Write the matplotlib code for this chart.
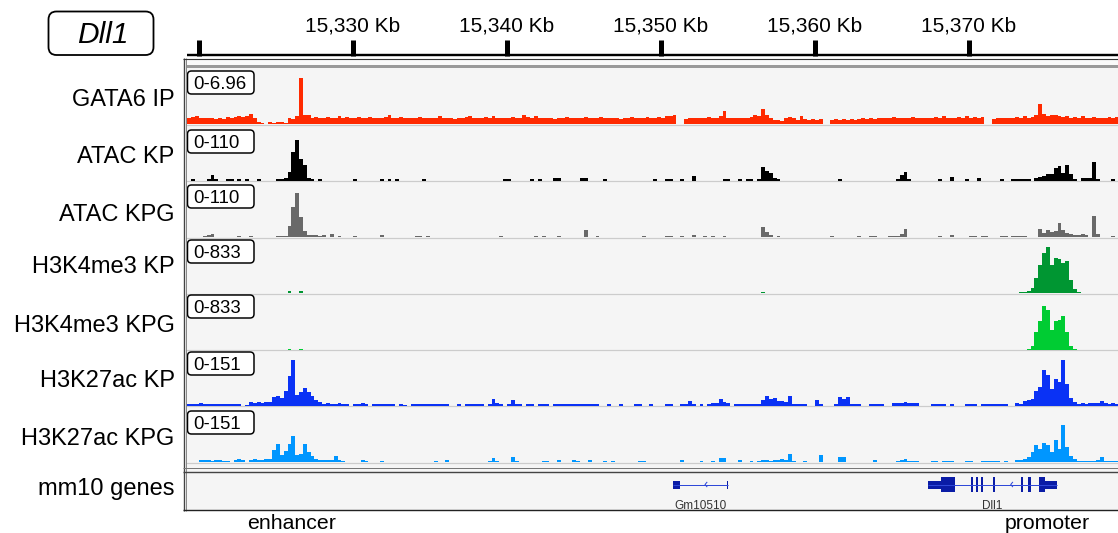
import numpy as np
import matplotlib
matplotlib.use("Agg")
import matplotlib.pyplot as plt
from matplotlib.patches import FancyBboxPatch, Rectangle

plt.rcParams['font.family'] = ['Liberation Sans', 'DejaVu Sans']

# ---------------------------------------------------------------- data
# genomic window (kb) and ruler
VIEW_START, VIEW_END = 15319.156, 15379.675
RULER_TICKS = [15320, 15330, 15340, 15350, 15360, 15370, 15380]
RULER_LABELS = ["", "15,330 Kb", "15,340 Kb", "15,350 Kb", "15,360 Kb", "15,370 Kb", ""]

# coverage bins
BIN_START = 15319.25
BIN_KB = 0.25

TRACK_NAMES = ["GATA6 IP", "ATAC KP", "ATAC KPG", "H3K4me3 KP", "H3K4me3 KPG",
               "H3K27ac KP", "H3K27ac KPG"]
TRACK_RANGES = [6.96, 110, 110, 833, 833, 151, 151]
TRACK_RANGE_LABELS = ["0-6.96", "0-110", "0-110", "0-833", "0-833", "0-151", "0-151"]
TRACK_COLORS = ["#ff2a00", "#000000", "#696969", "#009632", "#00cc33", "#0a32f5", "#0096ff"]

GATA6_IP = [
    0.8, 0.9, 1.0, 0.7, 0.8, 0.7, 0.8, 0.6, 0.8, 0.6,
    0.9, 0.8, 0.9, 1.0, 0.9, 1.0, 1.3, 0.8, 0.3, 0.1,
    0.0, 0.2, 0.1, 0.3, 0.2, 0.1, 0.8, 0.6, 1.0, 5.8,
    1.1, 1.1, 0.8, 0.9, 0.7, 0.7, 0.9, 0.8, 0.7, 1.0,
    0.8, 0.9, 0.7, 0.8, 0.9, 0.8, 0.7, 0.9, 0.8, 0.7,
    0.8, 0.9, 1.2, 0.8, 0.7, 0.9, 0.8, 0.7, 0.8, 0.7,
    0.9, 0.8, 0.7, 0.8, 0.7, 1.0, 0.8, 0.7, 0.8, 0.6,
    0.8, 0.7, 0.9, 1.0, 0.8, 0.7, 0.8, 0.9, 0.7, 1.0,
    0.8, 0.7, 0.8, 0.7, 0.9, 0.8, 0.7, 1.2, 0.9, 0.8,
    1.0, 0.7, 0.8, 0.7, 0.8, 0.6, 0.7, 0.8, 0.9, 0.8,
    0.7, 0.8, 0.7, 0.9, 0.8, 0.7, 0.8, 0.9, 0.7, 0.8,
    0.8, 0.7, 0.6, 0.8, 0.7, 0.9, 0.8, 0.7, 0.8, 0.9,
    0.8, 0.7, 0.9, 0.8, 1.0, 1.0, 1.1, 0.0, 0.0, 0.6,
    0.8, 0.7, 0.8, 0.7, 0.8, 0.9, 0.8, 0.7, 1.0, 1.7,
    0.8, 0.7, 0.8, 0.7, 0.8, 0.7, 0.9, 1.2, 1.0, 1.9,
    1.2, 0.8, 0.5, 0.5, 0.4, 0.7, 0.9, 0.8, 0.5, 1.0,
    0.6, 0.5, 0.6, 0.5, 0.6, 0.0, 0.0, 0.5, 0.6, 0.5,
    0.6, 0.5, 0.6, 0.5, 0.6, 0.8, 0.6, 0.7, 0.6, 0.7,
    0.7, 0.8, 0.7, 0.9, 0.8, 0.7, 0.8, 0.7, 0.9, 0.8,
    0.7, 0.8, 0.7, 0.8, 0.9, 0.8, 1.0, 0.8, 0.7, 0.8,
    0.9, 0.8, 1.0, 0.8, 0.9, 0.8, 0.9, 0.0, 0.0, 0.6,
    0.8, 0.7, 0.8, 0.7, 0.8, 0.9, 0.8, 1.0, 0.8, 0.9,
    1.1, 2.5, 1.3, 1.0, 1.2, 1.1, 1.0, 0.9, 1.0, 0.8,
    0.9, 0.8, 1.0, 0.8, 0.7, 0.9, 0.8, 0.7, 0.8, 0.9,
    0.8, 0.9,
]

ATAC_KP = [
    0, 2, 0, 0, 0, 3, 10, 2, 0, 0,
    2, 2, 0, 2, 0, 2, 0, 0, 2, 0,
    0, 0, 0, 2, 3, 4, 16, 56, 80, 42,
    30, 5, 2, 0, 2, 0, 0, 0, 0, 0,
    0, 0, 0, 2, 0, 0, 0, 0, 0, 0,
    2, 0, 2, 0, 2, 0, 0, 0, 0, 0,
    0, 2, 0, 0, 0, 0, 0, 0, 0, 0,
    0, 0, 0, 0, 0, 0, 0, 0, 0, 0,
    0, 0, 2, 2, 0, 0, 0, 0, 0, 2,
    0, 2, 0, 0, 0, 4, 4, 0, 0, 0,
    0, 0, 4, 4, 0, 0, 0, 0, 2, 0,
    0, 0, 0, 0, 0, 0, 0, 0, 0, 0,
    0, 2, 0, 0, 2, 2, 0, 0, 2, 0,
    0, 9, 0, 0, 0, 0, 0, 0, 0, 2,
    2, 0, 0, 2, 0, 2, 2, 0, 2, 26,
    18, 14, 5, 2, 0, 0, 0, 0, 0, 0,
    0, 0, 0, 0, 0, 0, 0, 0, 0, 2,
    0, 0, 0, 0, 0, 0, 0, 0, 0, 0,
    0, 0, 0, 0, 2, 11, 16, 3, 0, 0,
    0, 0, 0, 0, 0, 2, 0, 0, 6, 0,
    0, 0, 2, 0, 0, 5, 0, 0, 0, 0,
    0, 2, 0, 0, 2, 3, 2, 2, 2, 0,
    4, 6, 8, 12, 12, 24, 28, 14, 30, 12,
    3, 0, 5, 4, 5, 36, 3, 0, 0, 0,
    2, 0,
]

ATAC_KPG = [
    0, 0, 0, 0, 2, 3, 6, 0, 0, 0,
    0, 0, 0, 2, 0, 0, 2, 0, 0, 0,
    0, 0, 0, 2, 2, 2, 22, 60, 88, 40,
    12, 3, 3, 3, 2, 3, 0, 6, 0, 2,
    0, 0, 0, 2, 0, 0, 0, 0, 0, 0,
    3, 0, 0, 0, 0, 0, 0, 0, 0, 2,
    2, 0, 2, 0, 0, 0, 0, 0, 0, 0,
    0, 0, 0, 0, 0, 0, 0, 0, 0, 0,
    0, 2, 0, 0, 0, 0, 0, 0, 0, 0,
    2, 0, 2, 0, 0, 0, 2, 0, 0, 0,
    0, 0, 0, 14, 0, 0, 2, 0, 0, 0,
    0, 0, 0, 0, 0, 0, 0, 0, 2, 0,
    0, 0, 0, 0, 2, 2, 0, 0, 2, 0,
    0, 4, 0, 0, 2, 0, 2, 0, 0, 2,
    0, 0, 0, 0, 0, 0, 0, 0, 0, 20,
    10, 3, 0, 2, 0, 0, 0, 0, 0, 0,
    0, 0, 0, 0, 0, 0, 0, 2, 0, 0,
    0, 0, 0, 0, 2, 0, 0, 2, 2, 0,
    0, 0, 2, 2, 2, 6, 16, 0, 0, 0,
    0, 0, 0, 0, 0, 2, 0, 0, 4, 0,
    0, 0, 0, 2, 2, 0, 2, 2, 0, 0,
    0, 2, 2, 0, 2, 2, 2, 2, 0, 0,
    0, 16, 7, 13, 10, 12, 28, 13, 8, 5,
    4, 3, 5, 3, 0, 42, 5, 0, 0, 0,
    2, 0,
]

H3K4ME3_KP = [
    0, 0, 0, 0, 0, 0, 0, 0, 0, 0,
    0, 0, 0, 0, 0, 0, 0, 0, 0, 0,
    0, 0, 0, 0, 0, 0, 25, 0, 0, 25,
    0, 0, 0, 0, 0, 0, 0, 0, 0, 0,
    0, 0, 0, 0, 0, 0, 0, 0, 0, 0,
    0, 0, 0, 0, 0, 0, 0, 0, 0, 0,
    0, 0, 0, 0, 0, 0, 0, 0, 0, 0,
    0, 0, 0, 0, 0, 0, 0, 0, 0, 0,
    0, 0, 0, 0, 0, 0, 0, 0, 0, 0,
    0, 0, 0, 0, 0, 0, 0, 0, 0, 0,
    0, 0, 0, 0, 0, 0, 0, 0, 0, 0,
    0, 0, 0, 0, 0, 0, 0, 0, 0, 0,
    0, 0, 0, 0, 0, 0, 0, 0, 0, 0,
    0, 0, 0, 0, 0, 0, 0, 0, 0, 0,
    0, 0, 0, 0, 0, 0, 0, 0, 0, 15,
    0, 0, 0, 0, 0, 0, 0, 0, 0, 0,
    0, 0, 0, 0, 0, 0, 0, 0, 0, 0,
    0, 0, 0, 0, 0, 0, 0, 0, 0, 0,
    0, 0, 0, 0, 0, 0, 0, 0, 0, 0,
    0, 0, 0, 0, 0, 0, 0, 0, 0, 0,
    0, 0, 0, 0, 0, 0, 0, 0, 0, 0,
    0, 0, 0, 0, 0, 0, 15, 20, 30, 80,
    230, 420, 600, 690, 420, 530, 520, 450, 480, 200,
    60, 15, 0, 0, 0, 0, 0, 0, 0, 0,
    0, 0,
]

H3K4ME3_KPG = [
    0, 0, 0, 0, 0, 0, 0, 0, 0, 0,
    0, 0, 0, 0, 0, 0, 0, 0, 0, 0,
    0, 0, 0, 0, 0, 0, 15, 0, 0, 15,
    0, 0, 0, 0, 0, 0, 0, 0, 0, 0,
    0, 0, 0, 0, 0, 0, 0, 0, 0, 0,
    0, 0, 0, 0, 0, 0, 0, 0, 0, 0,
    0, 0, 0, 0, 0, 0, 0, 0, 0, 0,
    0, 0, 0, 0, 0, 0, 0, 0, 0, 0,
    0, 0, 0, 0, 0, 0, 0, 0, 0, 0,
    0, 0, 0, 0, 0, 0, 0, 0, 0, 0,
    0, 0, 0, 0, 0, 0, 0, 0, 0, 0,
    0, 0, 0, 0, 0, 0, 0, 0, 0, 0,
    0, 0, 0, 0, 0, 0, 0, 0, 0, 0,
    0, 0, 0, 0, 0, 0, 0, 0, 0, 0,
    0, 0, 0, 0, 0, 0, 0, 0, 0, 0,
    0, 0, 0, 0, 0, 0, 0, 0, 0, 0,
    0, 0, 0, 0, 0, 0, 0, 0, 0, 0,
    0, 0, 0, 0, 0, 0, 0, 0, 0, 0,
    0, 0, 0, 0, 0, 0, 0, 0, 0, 0,
    0, 0, 0, 0, 0, 0, 0, 0, 0, 0,
    0, 0, 0, 0, 0, 0, 0, 0, 0, 0,
    0, 0, 0, 0, 0, 0, 0, 0, 10, 60,
    270, 430, 660, 600, 300, 430, 440, 500, 260, 60,
    10, 0, 0, 0, 0, 0, 0, 0, 0, 0,
    0, 0,
]

H3K27AC_KP = [
    3, 4, 3, 8, 5, 3, 4, 3, 3, 4,
    5, 4, 4, 3, 0, 2, 9, 8, 9, 8,
    9, 10, 22, 27, 20, 40, 80, 124, 30, 38,
    47, 38, 27, 16, 9, 5, 6, 5, 5, 8,
    5, 3, 0, 3, 3, 8, 3, 0, 3, 3,
    3, 3, 5, 3, 0, 3, 2, 0, 5, 4,
    5, 4, 5, 3, 5, 4, 5, 3, 0, 0,
    3, 0, 3, 3, 5, 5, 3, 0, 3, 19,
    6, 3, 0, 3, 14, 4, 3, 0, 5, 3,
    0, 3, 5, 3, 0, 3, 5, 5, 5, 4,
    5, 5, 4, 5, 5, 4, 5, 0, 0, 3,
    0, 0, 3, 0, 0, 0, 3, 3, 0, 0,
    3, 0, 0, 0, 3, 3, 0, 0, 4, 5,
    11, 4, 0, 3, 0, 5, 8, 8, 17, 9,
    6, 0, 3, 3, 3, 3, 3, 4, 5, 14,
    25, 17, 20, 12, 11, 10, 25, 3, 3, 4,
    3, 0, 0, 14, 3, 0, 0, 0, 3, 22,
    18, 22, 3, 4, 3, 0, 0, 3, 4, 3,
    3, 0, 0, 8, 8, 8, 9, 8, 8, 6,
    0, 0, 0, 3, 3, 4, 3, 0, 3, 0,
    0, 0, 3, 4, 3, 0, 3, 4, 3, 3,
    4, 3, 4, 0, 0, 6, 5, 11, 14, 19,
    40, 50, 98, 85, 45, 72, 65, 124, 60, 20,
    10, 5, 6, 5, 7, 6, 8, 11, 6, 5,
    6, 5,
]

H3K27AC_KPG = [
    0, 0, 0, 5, 6, 5, 4, 6, 5, 3,
    3, 0, 5, 8, 6, 0, 6, 8, 5, 6,
    8, 8, 33, 48, 20, 30, 48, 72, 18, 22,
    50, 26, 16, 9, 5, 5, 5, 6, 16, 5,
    4, 0, 0, 0, 0, 5, 3, 0, 0, 0,
    3, 0, 0, 0, 0, 0, 0, 0, 0, 0,
    0, 0, 0, 0, 4, 0, 0, 5, 0, 0,
    0, 0, 0, 0, 0, 0, 0, 0, 3, 11,
    4, 0, 0, 0, 14, 3, 0, 0, 0, 0,
    0, 0, 3, 3, 0, 0, 5, 0, 0, 0,
    5, 4, 0, 0, 5, 0, 0, 0, 3, 0,
    3, 0, 0, 0, 0, 0, 0, 3, 3, 0,
    0, 0, 0, 0, 0, 0, 0, 0, 5, 0,
    0, 0, 0, 3, 0, 0, 3, 0, 11, 11,
    0, 0, 0, 5, 0, 0, 3, 0, 3, 5,
    5, 3, 5, 5, 8, 6, 22, 3, 0, 0,
    3, 0, 0, 0, 19, 0, 0, 0, 0, 14,
    14, 0, 0, 0, 0, 0, 0, 0, 5, 0,
    0, 0, 0, 0, 3, 5, 8, 3, 3, 3,
    0, 0, 0, 3, 3, 0, 3, 3, 3, 0,
    0, 0, 3, 3, 0, 0, 3, 3, 3, 3,
    3, 0, 4, 0, 0, 5, 5, 8, 14, 27,
    45, 35, 52, 47, 27, 60, 36, 102, 40, 16,
    8, 4, 3, 3, 3, 4, 5, 14, 3, 3,
    3, 2,
]

TRACK_VALUES = [GATA6_IP, ATAC_KP, ATAC_KPG, H3K4ME3_KP, H3K4ME3_KPG,
                H3K27AC_KP, H3K27AC_KPG]

# mm10 gene models (kb); both genes on the minus strand
GENE_NAMES = ["Gm10510", "Dll1"]
GENE_SPANS = [(15350.78, 15354.36), (15367.34, 15375.73)]
GENE_NONCODING = [
    [(15350.78, 15351.23), (15351.66, 15351.72), (15354.31, 15354.37)],
    [(15367.34, 15368.18), (15374.95, 15375.73)],
]
GENE_CODING = [
    [],
    [(15368.18, 15369.09), (15370.11, 15370.28), (15370.45, 15370.58),
     (15370.76, 15370.89), (15371.58, 15371.69), (15373.38, 15373.53),
     (15373.85, 15374.01), (15374.56, 15374.95)],
]
GENE_ARROWS = [15352.86, 15372.71]

REGION_NOTES = ["enhancer", "promoter"]

# ---------------------------------------------------------------- layout (pixels)
W, H, DPI = 1118, 533, 100
DATA_X0, DATA_X1 = 186, W
TRACK_TOPS = [69, 125, 181.5, 238, 294, 350.5, 406.5]
TRACK_BASES = [124, 180.5, 237, 293, 349.5, 405.5, 462]
LABEL_BASELINES = [106, 163, 221, 273.3, 331.7, 386.7, 445]
BOX_TOPS = [71, 130, 185, 240, 295, 352, 411]
PX = 0.72  # one pixel in points

fig = plt.figure(figsize=(W / DPI, H / DPI), dpi=DPI)


def px_axes(x0, y0, x1, y1, z):
    ax = fig.add_axes([x0 / W, 1 - y1 / H, (x1 - x0) / W, (y1 - y0) / H])
    ax.set_zorder(z)
    ax.patch.set_visible(False)
    ax.axis('off')
    return ax


# background layer
bg = px_axes(0, 0, W, H, 0)
bg.set_xlim(0, W)
bg.set_ylim(H, 0)
bg.add_patch(Rectangle((183, 59), W - 183, 451, facecolor='#f5f5f5', edgecolor='none'))
bg.add_patch(Rectangle((186, 59), W - 186, 6.3, facecolor='#fafafa', edgecolor='none'))
bg.add_patch(Rectangle((186, 65.3), W - 186, 3, facecolor='#9a9a9a', edgecolor='none'))
for base in TRACK_BASES[:-1]:
    bg.hlines(base + 0.6, DATA_X0, W, color='#cccccc', lw=1.2 * PX)
bg.hlines(463, DATA_X0, W, color='#cccccc', lw=1.2 * PX)

# coverage tracks
edges = BIN_START + BIN_KB * np.arange(len(GATA6_IP) + 1)
for vals, vmax, col, top, base in zip(TRACK_VALUES, TRACK_RANGES, TRACK_COLORS,
                                      TRACK_TOPS, TRACK_BASES):
    assert len(vals) == len(edges) - 1
    ax = px_axes(DATA_X0, top, DATA_X1, base, 1)
    ax.set_xlim(VIEW_START, VIEW_END)
    ax.set_ylim(0, vmax)
    ax.stairs(vals, edges, fill=True, color=col, lw=0)

# ruler
ru = px_axes(DATA_X0, 10, DATA_X1, 60, 1)
ru.set_xlim(VIEW_START, VIEW_END)
ru.set_ylim(60, 10)
ru.hlines(55, VIEW_START + 0.07, VIEW_END, color='black', lw=2.4 * PX)
ru.vlines(RULER_TICKS, 40, 55.5, color='black', lw=5 * PX)
for t, lab in zip(RULER_TICKS, RULER_LABELS):
    if lab:
        ru.text(t, 31.7, lab, ha='center', va='baseline', fontsize=15, clip_on=False)

# gene track
gt = px_axes(DATA_X0, 472, DATA_X1, 510, 1)
gt.set_xlim(VIEW_START, VIEW_END)
gt.set_ylim(510, 472)
EXON_COL, LINE_COL = '#0a1ca6', '#2f48d8'
for name, (s, e), nc, cd, arr in zip(GENE_NAMES, GENE_SPANS, GENE_NONCODING,
                                      GENE_CODING, GENE_ARROWS):
    gt.hlines(484.5, s, e, color=LINE_COL, lw=1.0 * PX)
    for a, b in nc:
        gt.add_patch(Rectangle((a, 480.5), b - a, 8, facecolor=EXON_COL, edgecolor='none'))
    for a, b in cd:
        gt.add_patch(Rectangle((a, 477), b - a, 15, facecolor=EXON_COL, edgecolor='none'))
    gt.plot([arr + 0.12, arr, arr + 0.12], [482.3, 484.5, 486.7], color=LINE_COL, lw=1.0 * PX)
    gt.text((s + e) / 2, 509.3, name, ha='center', va='baseline', fontsize=8.5,
            color='#333333')

# foreground: frame, range boxes, labels
fg = px_axes(0, 0, W, H, 2)
fg.set_xlim(0, W)
fg.set_ylim(H, 0)
fg.vlines(183.5, 58.3, 510.8, color='#444444', lw=1.3 * PX)
fg.vlines(186.3, 58.3, 510.5, color='#8a8a8a', lw=1.0 * PX)
fg.hlines(58.5, 183, W, color='#333333', lw=1.1 * PX)
fg.hlines(467.7, 183, W, color='#777777', lw=1.0 * PX)
fg.hlines(471.6, 183, W, color='#444444', lw=1.4 * PX)
fg.hlines(510.3, 183, W, color='#222222', lw=1.4 * PX)

for lab, rng, top, yb in zip(TRACK_NAMES, TRACK_RANGE_LABELS, BOX_TOPS, LABEL_BASELINES):
    fg.add_patch(FancyBboxPatch((187.5, top), 66.5, 23,
                                boxstyle="round,pad=0,rounding_size=4",
                                facecolor='white', edgecolor='black', lw=1.5 * PX))
    fg.text(193.5, top + 18.3, rng, ha='left', va='baseline', fontsize=13.4)
    fg.text(174.5, yb, lab, ha='right', va='baseline', fontsize=17)
fg.text(174.5, 494.5, "mm10 genes", ha='right', va='baseline', fontsize=17)

# title box
fg.add_patch(FancyBboxPatch((48.5, 11.5), 105, 43.5, boxstyle="round,pad=0,rounding_size=8",
                            facecolor='white', edgecolor='black', lw=1.8 * PX))
fg.text(102.5, 42.7, "Dll1", ha='center', va='baseline', fontsize=21.5, style='italic')

# region notes under the panel
fg.text(292, 529, REGION_NOTES[0], ha='center', va='baseline', fontsize=15.3)
fg.text(1047, 529, REGION_NOTES[1], ha='center', va='baseline', fontsize=15.3)

fig.savefig("out.png", dpi=DPI)
